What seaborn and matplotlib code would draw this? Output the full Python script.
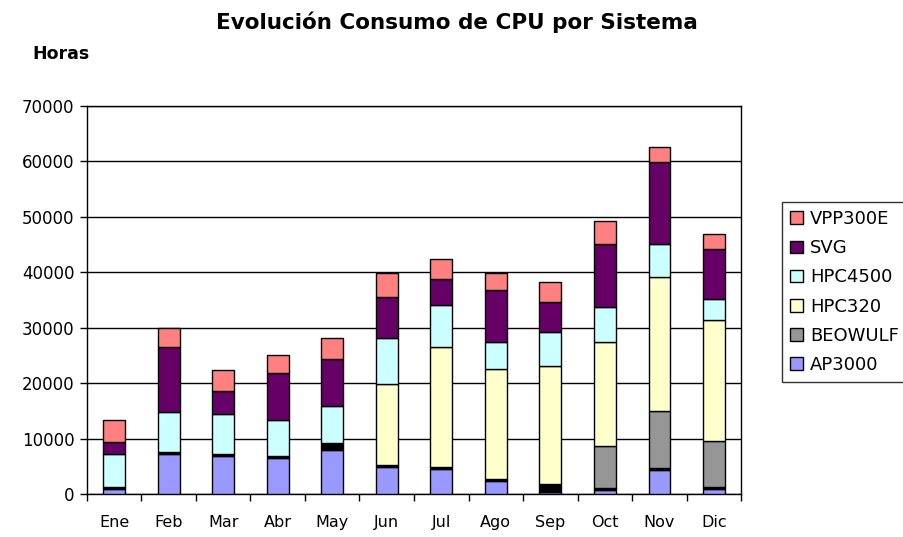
import numpy as np
import pandas as pd
import matplotlib.pyplot as plt
import seaborn as sns
from matplotlib.patches import Patch

sns.set_style("white")
plt.rcParams['font.family'] = ['DejaVu Sans']
plt.rcParams['text.color'] = 'black'
plt.rcParams['xtick.color'] = 'black'
plt.rcParams['ytick.color'] = 'black'

# Datos (horas de CPU por sistema y mes)
meses = ['Ene', 'Feb', 'Mar', 'Abr', 'May', 'Jun', 'Jul', 'Ago', 'Sep', 'Oct', 'Nov', 'Dic']
ap3000 = [900, 7200, 6900, 6500, 7900, 4900, 4500, 2300, 300, 700, 4300, 900]
otros = [400, 400, 400, 400, 1300, 400, 400, 400, 1600, 400, 400, 400]
beowulf = [0, 0, 0, 0, 0, 0, 0, 0, 0, 7500, 10300, 8300]
hpc320 = [0, 0, 0, 0, 0, 14600, 21700, 19800, 21200, 18800, 24100, 21700]
hpc4500 = [5900, 7200, 7100, 6500, 6600, 8300, 7500, 5000, 6200, 6400, 6000, 3900]
svg = [2200, 11800, 4100, 8500, 8500, 7400, 4700, 9200, 5300, 11300, 14700, 9000]
vpp300e = [3900, 3300, 3900, 3200, 3800, 4200, 3600, 3100, 3600, 4100, 2800, 2700]

series = [
    ('AP3000', ap3000, '#9999ff'),
    ('Otros', otros, '#000000'),
    ('BEOWULF', beowulf, '#969696'),
    ('HPC320', hpc320, '#ffffcc'),
    ('HPC4500', hpc4500, '#ccffff'),
    ('SVG', svg, '#660066'),
    ('VPP300E', vpp300e, '#ff8080'),
]

fig = plt.figure(figsize=(9.04, 5.37), dpi=100)
ax = fig.add_axes([0.096, 0.080, 0.724, 0.723])

base = np.zeros(len(meses))
for nombre, valores, color in series:
    df = pd.DataFrame({'Mes': meses, 'Horas': valores})
    sns.barplot(data=df, x='Mes', y='Horas', color=color, width=0.4,
                bottom=base, edgecolor='black', linewidth=1.0, ax=ax,
                saturation=1, zorder=3)
    base = base + np.array(valores)

ax.set_ylim(0, 70000)
ax.set_xlim(-0.5, 11.5)
ax.set_yticks(range(0, 70001, 10000))
ax.yaxis.grid(True, color='black', linewidth=1.0, zorder=0)
ax.set_axisbelow(True)
ax.set_xlabel('')
ax.set_ylabel('')
for s in ax.spines.values():
    s.set_color('black')
    s.set_linewidth(1.0)

ax.set_xticks(np.arange(-0.5, 12, 1), minor=True)
ax.tick_params(axis='x', which='major', length=0, pad=15, labelsize=11.5)
ax.tick_params(axis='x', which='minor', length=5, width=1, color='black', direction='out', bottom=True)
ax.tick_params(axis='y', length=5, width=1, color='black', direction='out', left=True, labelsize=12, pad=4)

fig.text(0.505, 0.958, 'Evolución Consumo de CPU por Sistema', ha='center', va='center',
         fontsize=15.5, fontweight='bold')
fig.text(0.036, 0.900, 'Horas', ha='left', va='center', fontsize=12.5, fontweight='bold')

handles = [Patch(facecolor=c, edgecolor='black', label=n)
           for n, v, c in reversed(series) if n != 'Otros']
leg = fig.legend(handles=handles, loc='upper left', bbox_to_anchor=(0.865, 0.624),
                 borderaxespad=0, frameon=True, fancybox=False, edgecolor='black',
                 fontsize=13, handlelength=0.7, handleheight=0.7, handletextpad=0.4,
                 labelspacing=0.62, borderpad=0.45)
leg.get_frame().set_linewidth(1.0)

fig.savefig('out.png', dpi=100, facecolor='white')
